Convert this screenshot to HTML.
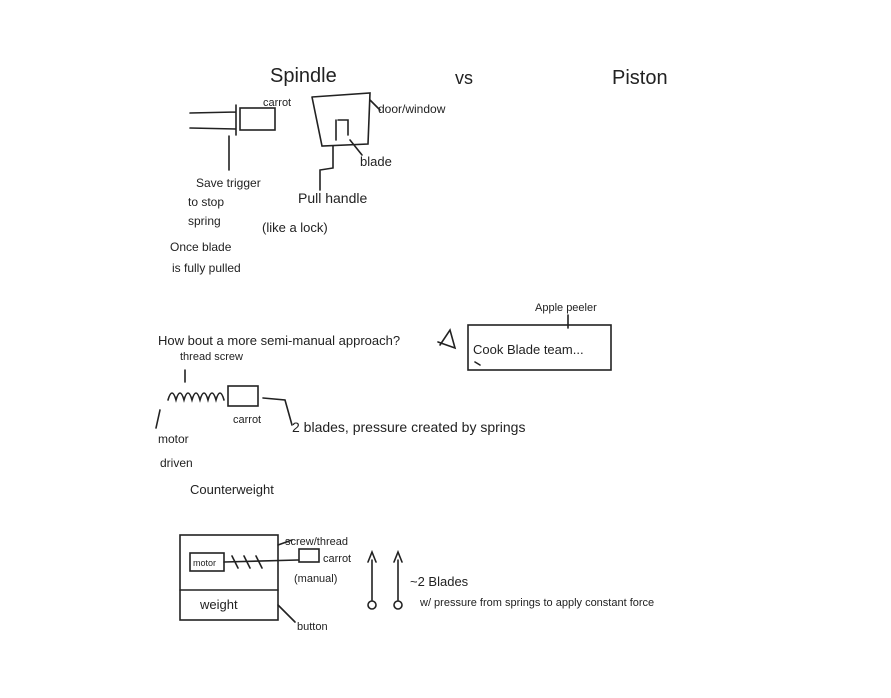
<!DOCTYPE html>
<html><head><meta charset="utf-8"><style>
html,body{margin:0;padding:0;background:#fff;}
svg{display:block}
text{font-family:"Liberation Sans",sans-serif;fill:#222;}
</style></head><body>
<svg width="891" height="698" viewBox="0 0 891 698" xmlns="http://www.w3.org/2000/svg">
<g stroke="#222" stroke-width="1.6" fill="none" stroke-linecap="round">
<!-- carrot arrow -->
<path d="M190 113 L236 112 M190 128 L236 129 M236 105 L236 135"/>
<rect x="240" y="108" width="35" height="22"/>
<path d="M229 136 L229 170"/>
<!-- door -->
<path d="M312 97 L370 93 L368 144 L322 146 L312 97"/>
<path d="M338 120 L348 120 L348 135 M336 120 L336 140"/>
<path d="M333 146 L333 168 L320 170 L320 190"/>
<path d="M370 100 L380 110"/>
<path d="M350 140 L362 155"/>
<!-- arrow line semi manual -->
<path d="M440 345 L450 330 L455 348 L438 342"/>
<rect x="468" y="325" width="143" height="45"/>
<path d="M568 315 L568 328"/>
<path d="M480 365 L475 362"/>
<!-- thread screw -->
<path d="M185 370 L185 382"/>
<path d="M168 400 q4 -14 8 0 q4 -14 8 0 q4 -14 8 0 q4 -14 8 0 q4 -14 8 0 q4 -14 8 0 q4 -14 8 0"/>
<rect x="228" y="386" width="30" height="20"/>
<path d="M160 410 L156 428"/>
<path d="M263 398 L285 400 L292 425"/>
<!-- bottom -->
<rect x="180" y="535" width="98" height="85"/>
<path d="M180 590 L278 590"/>
<rect x="190" y="553" width="34" height="18"/>
<path d="M224 562 L298 560"/>
<path d="M232 556 l6 12 M244 556 l6 12 M256 556 l6 12"/>
<rect x="299" y="549" width="20" height="13"/>
<path d="M278 545 L292 540 M278 605 L295 622"/>
<path d="M372 560 L372 600 M398 560 L398 600"/>
<path d="M368 562 L372 552 L376 562 M394 562 L398 552 L402 562"/>
<circle cx="372" cy="605" r="4"/><circle cx="398" cy="605" r="4"/>
</g>
<g font-size="13">
<text x="270" y="82" font-size="20">Spindle</text>
<text x="455" y="84" font-size="18">vs</text>
<text x="612" y="84" font-size="20">Piston</text>
<text x="263" y="106" font-size="11">carrot</text>
<text x="378" y="113" font-size="12">door/window</text>
<text x="360" y="166">blade</text>
<text x="298" y="203" font-size="14">Pull handle</text>
<text x="262" y="232" font-size="13">(like a lock)</text>
<text x="196" y="187" font-size="12">Save trigger</text>
<text x="188" y="206" font-size="12">to stop</text>
<text x="188" y="225" font-size="12">spring</text>
<text x="170" y="251" font-size="12">Once blade</text>
<text x="172" y="272" font-size="12">is fully pulled</text>
<text x="158" y="345" font-size="13">How bout a more semi-manual approach?</text>
<text x="535" y="311" font-size="11">Apple peeler</text>
<text x="473" y="354" font-size="13">Cook Blade team...</text>
<text x="180" y="360" font-size="11">thread screw</text>
<text x="233" y="423" font-size="11">carrot</text>
<text x="158" y="443" font-size="12">motor</text>
<text x="160" y="467" font-size="12">driven</text>
<text x="190" y="494" font-size="13">Counterweight</text>
<text x="292" y="432" font-size="14">2 blades, pressure created by springs</text>
<text x="193" y="566" font-size="9">motor</text>
<text x="200" y="609" font-size="13">weight</text>
<text x="285" y="545" font-size="11">screw/thread</text>
<text x="323" y="562" font-size="11">carrot</text>
<text x="294" y="582" font-size="11">(manual)</text>
<text x="297" y="630" font-size="11">button</text>
<text x="410" y="586" font-size="13">~2 Blades</text>
<text x="420" y="606" font-size="11">w/ pressure from springs to apply constant force</text>
</g>
</svg>
</body></html>
